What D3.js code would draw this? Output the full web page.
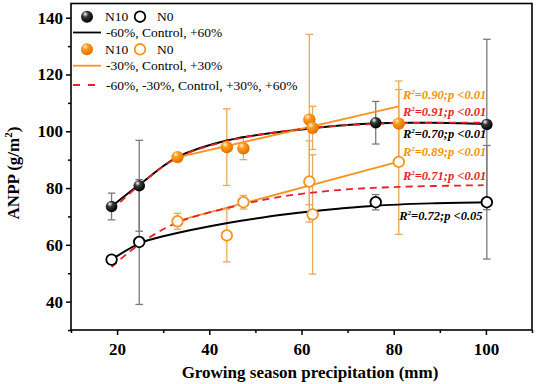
<!DOCTYPE html>
<html><head><meta charset="utf-8">
<script src="https://cdn.jsdelivr.net/npm/d3@7"></script>
<style>body{margin:0;background:#fff} svg{display:block}</style>
</head><body><svg id="c" width="536" height="384"></svg>
<script>
// ---------- data ----------
const xMajorTicks = [20, 40, 60, 80, 100];
const xMinorTicks = [10, 30, 50, 70, 90, 110];
const yMajorTicks = [40, 60, 80, 100, 120, 140];
const yMinorTicks = [30, 50, 70, 90, 110, 130];

// black: -60%, Control, +60%
const blackX      = [18.8, 24.8, 76.1, 100.2];
const blackN10    = [73.5, 80.8, 103.0, 102.4];
const blackN10Err = [4.7, 16.0, 7.5, 30.0];
const blackN0     = [54.8, 61.0, 75.0, 75.0];
const blackN0Err  = [1.2, 22.0, 2.7, 20.0];

// orange: -30%, Control, +30%
const orangeX      = [33.1, 43.8, 47.4, 61.7, 62.4, 81.1];
const orangeN10X   = [33.1, 43.8, 47.4, 61.7, 62.4, 81.1];
const orangeN10    = [90.9, 94.4, 94.0, 104.1, 101.2, 102.7];
const orangeN10Err = [1.2, 13.5, 4.0, 30.0, 7.6, 15.0];
const orangeN0     = [68.3, 63.3, 75.0, 82.3, 70.7, 89.2];
const orangeN0Err  = [2.8, 9.3, 2.4, 14.3, 21.0, 25.5];

// fitted curves
const fitBlackN10X = [18.8, 25, 33, 44, 60, 76, 88, 100];
const fitBlackN10Y = [73.5, 81.4, 90.8, 96.8, 100.6, 102.8, 103.0, 102.6];
const fitBlackN0X  = [18.8, 25, 30, 44, 58, 68, 76, 88, 100];
const fitBlackN0Y  = [54.8, 60.6, 63.0, 67.7, 71.0, 72.7, 73.8, 74.6, 75.0];
const fitRedN10X   = [18.8, 25, 33, 44, 60, 76, 88, 99.5];
const fitRedN10Y   = [72.2, 81.2, 90.6, 96.6, 100.8, 102.6, 103.0, 103.0];
const fitRedN0X    = [18.8, 25, 33, 44, 55, 68, 81, 99.5];
const fitRedN0Y    = [52.2, 60.4, 67.8, 73.0, 76.8, 79.3, 80.4, 81.0];
const fitOrN10X    = [33.1, 81.1];
const fitOrN10Y    = [90.8, 108.8];
const fitOrN0X     = [33.1, 81.1];
const fitOrN0Y     = [68.4, 89.3];

// annotations
const r2Values  = ["0.90", "0.91", "0.70", "0.89", "0.71", "0.72"];
const r2P       = ["0.01", "0.01", "0.01", "0.01", "0.01", "0.05"];
const r2AnchorX = [82.0, 82.0, 82.0, 82.0, 82.0, 81.2];
const r2AnchorY = [111.2, 105.3, 97.7, 91.2, 82.7, 68.9];
const r2Kind    = ["orange", "red", "black", "orange", "red", "black"];

const legendLabels = ["N10", "N0", "-60%, Control, +60%", "-30%, Control, +30%", "-60%, -30%, Control, +30%, +60%"];

// ---------- drawing ----------
const COL = {black: "#000", orange: "#f7931e", red: "#e8202a", errBlack: "#7a7a7a", errOrange: "#e9a85c",
             textOrange: "#f39200", textRed: "#e61e25"};
const svg = d3.select("#c");
const x = d3.scaleLinear().domain([10, 110]).range([71, 532]);
const y = d3.scaleLinear().domain([30, 145]).range([330, 3.5]);
const serif = "'Liberation Serif','Times New Roman',serif";

const defs = svg.append("defs");
function ballGrad(id, c0, c1, c2) {
  const g = defs.append("radialGradient").attr("id", id)
    .attr("cx", "38%").attr("cy", "32%").attr("r", "68%").attr("fx", "35%").attr("fy", "28%");
  g.append("stop").attr("offset", "0%").attr("stop-color", c0);
  g.append("stop").attr("offset", "35%").attr("stop-color", c1);
  g.append("stop").attr("offset", "100%").attr("stop-color", c2);
}
ballGrad("gBlack", "#ffffff", "#3a3a3a", "#000000");
ballGrad("gOrange", "#fff2cc", "#ff9a1e", "#e06f00");

// axes
const xAxis = d3.axisBottom(x).tickValues(xMajorTicks).tickSize(5).tickPadding(8).tickFormat(d3.format("d"));
const xAxisMinor = d3.axisBottom(x).tickValues(xMinorTicks).tickSize(3).tickFormat("");
const yAxis = d3.axisLeft(y).tickValues(yMajorTicks).tickSize(5).tickPadding(3).tickFormat(d3.format("d"));
const yAxisMinor = d3.axisLeft(y).tickValues(yMinorTicks).tickSize(3).tickFormat("");

function styleAxis(g) {
  g.select(".domain").remove();
  g.selectAll("line").attr("stroke", "#000").attr("stroke-width", 1.5);
  g.selectAll("text").attr("font-family", serif).attr("font-weight", "bold").attr("font-size", 17).attr("fill", "#000");
}
svg.append("g").attr("transform", "translate(0,330)").call(xAxis).call(styleAxis);
svg.append("g").attr("transform", "translate(0,330)").call(xAxisMinor).call(styleAxis);
svg.append("g").attr("transform", "translate(71,0)").call(yAxis).call(styleAxis);
svg.append("g").attr("transform", "translate(71,0)").call(yAxisMinor).call(styleAxis);

svg.append("rect").attr("x", x(10)).attr("y", y(145)).attr("width", x(110) - x(10)).attr("height", y(30) - y(145))
  .attr("fill", "none").attr("stroke", "#000").attr("stroke-width", 1.6);

// axis titles
svg.append("text").attr("x", 310).attr("y", 378).attr("text-anchor", "middle")
  .attr("font-family", serif).attr("font-weight", "bold").attr("font-size", 17).text("Growing season precipitation (mm)");
const yt = svg.append("text").attr("transform", "translate(18.5,173) rotate(-90)").attr("text-anchor", "middle")
  .attr("font-family", serif).attr("font-weight", "bold").attr("font-size", 17);
yt.append("tspan").text("ANPP (g/m");
yt.append("tspan").attr("font-size", 11).attr("dy", -7).text("2");
yt.append("tspan").attr("dy", 7).text(")");

// fitted lines
const line = d3.line().x(d => x(d[0])).y(d => y(d[1])).curve(d3.curveCatmullRom.alpha(0.5));
function drawFit(xs, ys, color, width, dash) {
  svg.append("path").datum(d3.zip(xs, ys)).attr("d", line).attr("fill", "none")
    .attr("stroke", color).attr("stroke-width", width).attr("stroke-dasharray", dash || null);
}

// error bars
function drawErr(xs, ys, es, color) {
  const g = svg.append("g").attr("stroke", color).attr("stroke-width", 1.3);
  xs.forEach((xv, i) => {
    const cx = x(xv), top = y(ys[i] + es[i]), bot = y(ys[i] - es[i]);
    g.append("line").attr("x1", cx).attr("x2", cx).attr("y1", top).attr("y2", bot);
    g.append("line").attr("x1", cx - 3.8).attr("x2", cx + 3.8).attr("y1", top).attr("y2", top);
    g.append("line").attr("x1", cx - 3.8).attr("x2", cx + 3.8).attr("y1", bot).attr("y2", bot);
  });
}

drawErr(blackX, blackN10, blackN10Err, COL.errBlack);
drawErr(blackX, blackN0, blackN0Err, COL.errBlack);
drawErr(orangeN10X, orangeN10, orangeN10Err, COL.errOrange);
drawErr(orangeX, orangeN0, orangeN0Err, COL.errOrange);

drawFit(fitBlackN0X, fitBlackN0Y, COL.black, 2);
drawFit(fitBlackN10X, fitBlackN10Y, COL.black, 2);
drawFit(fitOrN10X, fitOrN10Y, COL.orange, 1.8);
drawFit(fitOrN0X, fitOrN0Y, COL.orange, 1.8);
drawFit(fitRedN10X, fitRedN10Y, COL.red, 1.8, "7,5");
drawFit(fitRedN0X, fitRedN0Y, COL.red, 1.8, "7,5");

// points
function drawBalls(xs, ys, grad, r) {
  svg.append("g").selectAll("circle").data(d3.zip(xs, ys)).join("circle")
    .attr("cx", d => x(d[0])).attr("cy", d => y(d[1])).attr("r", r).attr("fill", `url(#${grad})`);
}
function drawOpen(xs, ys, color, r) {
  svg.append("g").selectAll("circle").data(d3.zip(xs, ys)).join("circle")
    .attr("cx", d => x(d[0])).attr("cy", d => y(d[1])).attr("r", r)
    .attr("fill", "#fff").attr("stroke", color).attr("stroke-width", 1.8);
}
drawOpen(blackX, blackN0, COL.black, 5.3);
drawOpen(orangeX, orangeN0, COL.orange, 5.3);
drawBalls(blackX, blackN10, "gBlack", 5.8);
drawBalls(orangeN10X, orangeN10, "gOrange", 6.2);

// R2 labels
const kindColor = {orange: COL.textOrange, red: COL.textRed, black: "#000"};
r2Values.forEach((v, i) => {
  const t = svg.append("text").attr("x", x(r2AnchorX[i])).attr("y", y(r2AnchorY[i]))
    .attr("font-family", serif).attr("font-weight", "bold").attr("font-style", "italic")
    .attr("font-size", 12.5).attr("fill", kindColor[r2Kind[i]]);
  t.append("tspan").text("R");
  t.append("tspan").attr("font-size", 7).attr("dy", -5).text("2");
  t.append("tspan").attr("dy", 5).text(`=${v};p <${r2P[i]}`);
});

// legend
const lg = svg.append("g").attr("font-family", serif).attr("font-size", 13.5).attr("fill", "#000");
function legendRowMarkers(cy, grad, openColor) {
  lg.append("circle").attr("cx", 87).attr("cy", cy).attr("r", 6).attr("fill", `url(#${grad})`);
  lg.append("text").attr("x", 105).attr("y", cy + 4.5).text(legendLabels[0]);
  lg.append("circle").attr("cx", 140).attr("cy", cy).attr("r", 5.3).attr("fill", "#fff")
    .attr("stroke", openColor).attr("stroke-width", 1.8);
  lg.append("text").attr("x", 157).attr("y", cy + 4.5).text(legendLabels[1]);
}
function legendRowLine(cy, color, dash, label) {
  lg.append("line").attr("x1", 73).attr("x2", 101).attr("y1", cy).attr("y2", cy)
    .attr("stroke", color).attr("stroke-width", 1.8).attr("stroke-dasharray", dash || null);
  lg.append("text").attr("x", 106).attr("y", cy + 4.5).text(label);
}
legendRowMarkers(16.7, "gBlack", COL.black);
legendRowLine(32.5, COL.black, null, legendLabels[2]);
legendRowMarkers(49.3, "gOrange", COL.orange);
legendRowLine(65.7, COL.orange, null, legendLabels[3]);
legendRowLine(85, COL.red, "7,8", legendLabels[4]);
</script></body></html>
